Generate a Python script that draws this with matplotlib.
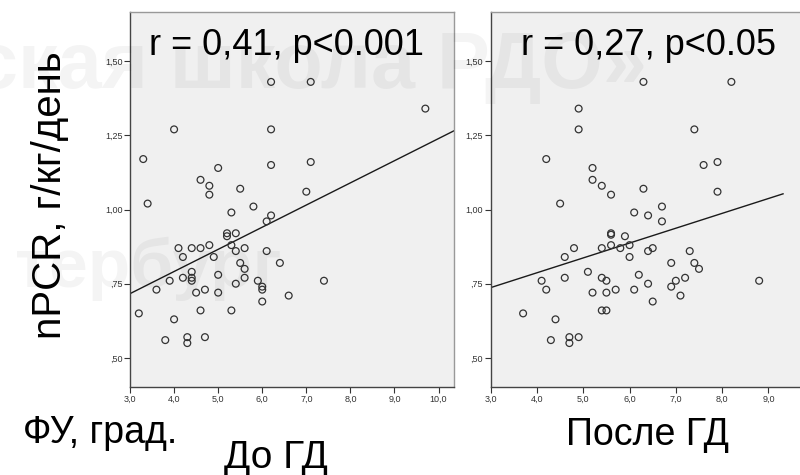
import numpy as np
import matplotlib
matplotlib.use("Agg")
import matplotlib.pyplot as plt
from matplotlib import font_manager

# ---------------- data ----------------
before_x = [6.2, 7.1, 9.7, 4.0, 6.2, 3.3, 5.0, 6.2, 7.1, 4.6, 4.8, 4.8, 5.5, 7.0,
            3.4, 5.8, 5.3, 6.2, 6.1, 5.2, 5.2, 5.4, 5.3, 4.8, 4.1, 4.4, 4.6, 5.6,
            5.4, 6.1, 4.2, 4.9, 6.4, 5.5, 5.6, 4.4, 5.0, 4.2, 5.6, 4.4, 3.9, 4.4,
            5.9, 7.4, 5.4, 6.0, 6.0, 3.6, 4.7, 4.5, 5.0, 6.6, 6.0, 3.2, 4.6, 5.3,
            4.0, 3.8, 4.3, 4.7, 4.3]
before_y = [1.43, 1.43, 1.34, 1.27, 1.27, 1.17, 1.14, 1.15, 1.16, 1.10, 1.08, 1.05, 1.07, 1.06,
            1.02, 1.01, 0.99, 0.98, 0.96, 0.92, 0.91, 0.92, 0.88, 0.88, 0.87, 0.87, 0.87, 0.87,
            0.86, 0.86, 0.84, 0.84, 0.82, 0.82, 0.80, 0.79, 0.78, 0.77, 0.77, 0.77, 0.76, 0.76,
            0.76, 0.76, 0.75, 0.74, 0.73, 0.73, 0.73, 0.72, 0.72, 0.71, 0.69, 0.65, 0.66, 0.66,
            0.63, 0.56, 0.57, 0.57, 0.55]

after_x = [6.3, 8.2, 4.9, 4.9, 7.4, 4.2, 5.2, 7.6, 7.9, 5.2, 5.4, 5.6, 6.3, 7.9,
           4.5, 6.7, 6.1, 6.4, 6.7, 5.6, 5.6, 5.9, 5.6, 6.0, 4.8, 5.4, 5.8, 6.5,
           6.4, 7.3, 4.6, 6.0, 6.9, 7.4, 7.5, 5.1, 6.2, 4.6, 5.4, 7.2, 4.1, 5.5,
           7.0, 8.8, 6.4, 6.9, 4.2, 5.7, 6.1, 5.2, 5.5, 7.1, 6.5, 3.7, 5.4, 5.5,
           4.4, 4.3, 4.7, 4.9, 4.7]
after_y = [1.43, 1.43, 1.34, 1.27, 1.27, 1.17, 1.14, 1.15, 1.16, 1.10, 1.08, 1.05, 1.07, 1.06,
           1.02, 1.01, 0.99, 0.98, 0.96, 0.92, 0.915, 0.91, 0.88, 0.88, 0.87, 0.87, 0.87, 0.87,
           0.86, 0.86, 0.84, 0.84, 0.82, 0.82, 0.80, 0.79, 0.78, 0.77, 0.77, 0.77, 0.76, 0.76,
           0.76, 0.76, 0.75, 0.74, 0.73, 0.73, 0.73, 0.72, 0.72, 0.71, 0.69, 0.65, 0.66, 0.66,
           0.63, 0.56, 0.57, 0.57, 0.55]

stats_labels = ["r = 0,41, p<0.001", "r = 0,27, p<0.05"]
panel_labels = ["До ГД", "После ГД"]
y_label = "nPCR, г/кг/день"
x_label = "ФУ, град."
xticks_vals = [3, 4, 5, 6, 7, 8, 9, 10]
yticks_vals = [0.50, 0.75, 1.00, 1.25, 1.50]

# ---------------- fonts ----------------
avail = {f.name for f in font_manager.fontManager.ttflist}
base_font = "Liberation Sans" if "Liberation Sans" in avail else "DejaVu Sans"
narrow_font = "Liberation Sans Narrow" if "Liberation Sans Narrow" in avail else base_font
plt.rcParams["font.family"] = [base_font, "DejaVu Sans"]


def fmt_tick(v):
    s = f"{v:.2f}".replace(".", ",")
    if s.startswith("0"):
        s = s[1:]
    return s


fig = plt.figure(figsize=(8, 4.75), dpi=100)
W, H = 800, 475


def px_axes(x0, y0, x1, y1):
    return fig.add_axes([x0 / W, 1 - y1 / H, (x1 - x0) / W, (y1 - y0) / H])


ax1 = px_axes(130, 12, 454, 387)
ax2 = px_axes(490.7, 12, 814.7, 387)

datasets = [(ax1, before_x, before_y, (3.0, 10.35)), (ax2, after_x, after_y, (3.0, 9.316))]

for ax, xs, ys, xl in datasets:
    ax.set_facecolor("#f0f0f0")
    ax.scatter(xs, ys, s=24, facecolors="none", edgecolors="#333333", linewidths=0.9, zorder=3)
    k, b = np.polyfit(xs, ys, 1)
    xx = np.array(xl)
    ax.plot(xx, k * xx + b, color="#1a1a1a", lw=1.0, zorder=2)
    ax.set_xlim(*xl)
    ax.set_ylim(0.402, 1.6655)
    ax.set_yticks(yticks_vals)
    ax.set_yticklabels([fmt_tick(v) for v in yticks_vals], fontfamily=narrow_font,
                       fontsize=6.5, color="#333333")
    ax.set_xticks(xticks_vals)
    ax.set_xticklabels([f"{v:.1f}".replace(".", ",") for v in xticks_vals],
                       fontfamily=narrow_font, fontsize=6.5, color="#333333")
    ax.tick_params(direction="out", length=4, width=0.8, color="#333333", pad=1.5)
    for side in ("left", "bottom"):
        ax.spines[side].set_color("#444444")
        ax.spines[side].set_linewidth(1.0)
    for side in ("top", "right"):
        ax.spines[side].set_color("#999999")
        ax.spines[side].set_linewidth(1.0)

# stats annotations
fig.text(286.5 / W, 1 - 55 / H, stats_labels[0], fontsize=26, ha="center", va="baseline")
fig.text(648.5 / W, 1 - 55 / H, stats_labels[1], fontsize=26, ha="center", va="baseline")

# y label
fig.text(50 / W, 1 - 195 / H, y_label, fontsize=29, rotation=90, ha="center", va="center")

# bottom labels
fig.text(23 / W, 1 - 443 / H, x_label, fontsize=27, ha="left", va="baseline",
         fontfamily=narrow_font)
fig.text(276 / W, 1 - 468 / H, panel_labels[0], fontsize=28, ha="center", va="baseline",
         fontfamily=narrow_font)
fig.text(648 / W, 1 - 445 / H, panel_labels[1], fontsize=27, ha="center", va="baseline",
         fontfamily=narrow_font)

# faint watermark
fig.text(647 / W, 1 - 88 / H, "ская школа РДО»", fontsize=57, fontweight="bold",
         ha="right", va="baseline", color="black", alpha=0.045, zorder=10)
fig.text(282 / W, 1 - 287 / H, "тербург", fontsize=50, fontweight="bold",
         ha="right", va="baseline", color="black", alpha=0.045, zorder=10)

fig.savefig("out.png", dpi=100)
